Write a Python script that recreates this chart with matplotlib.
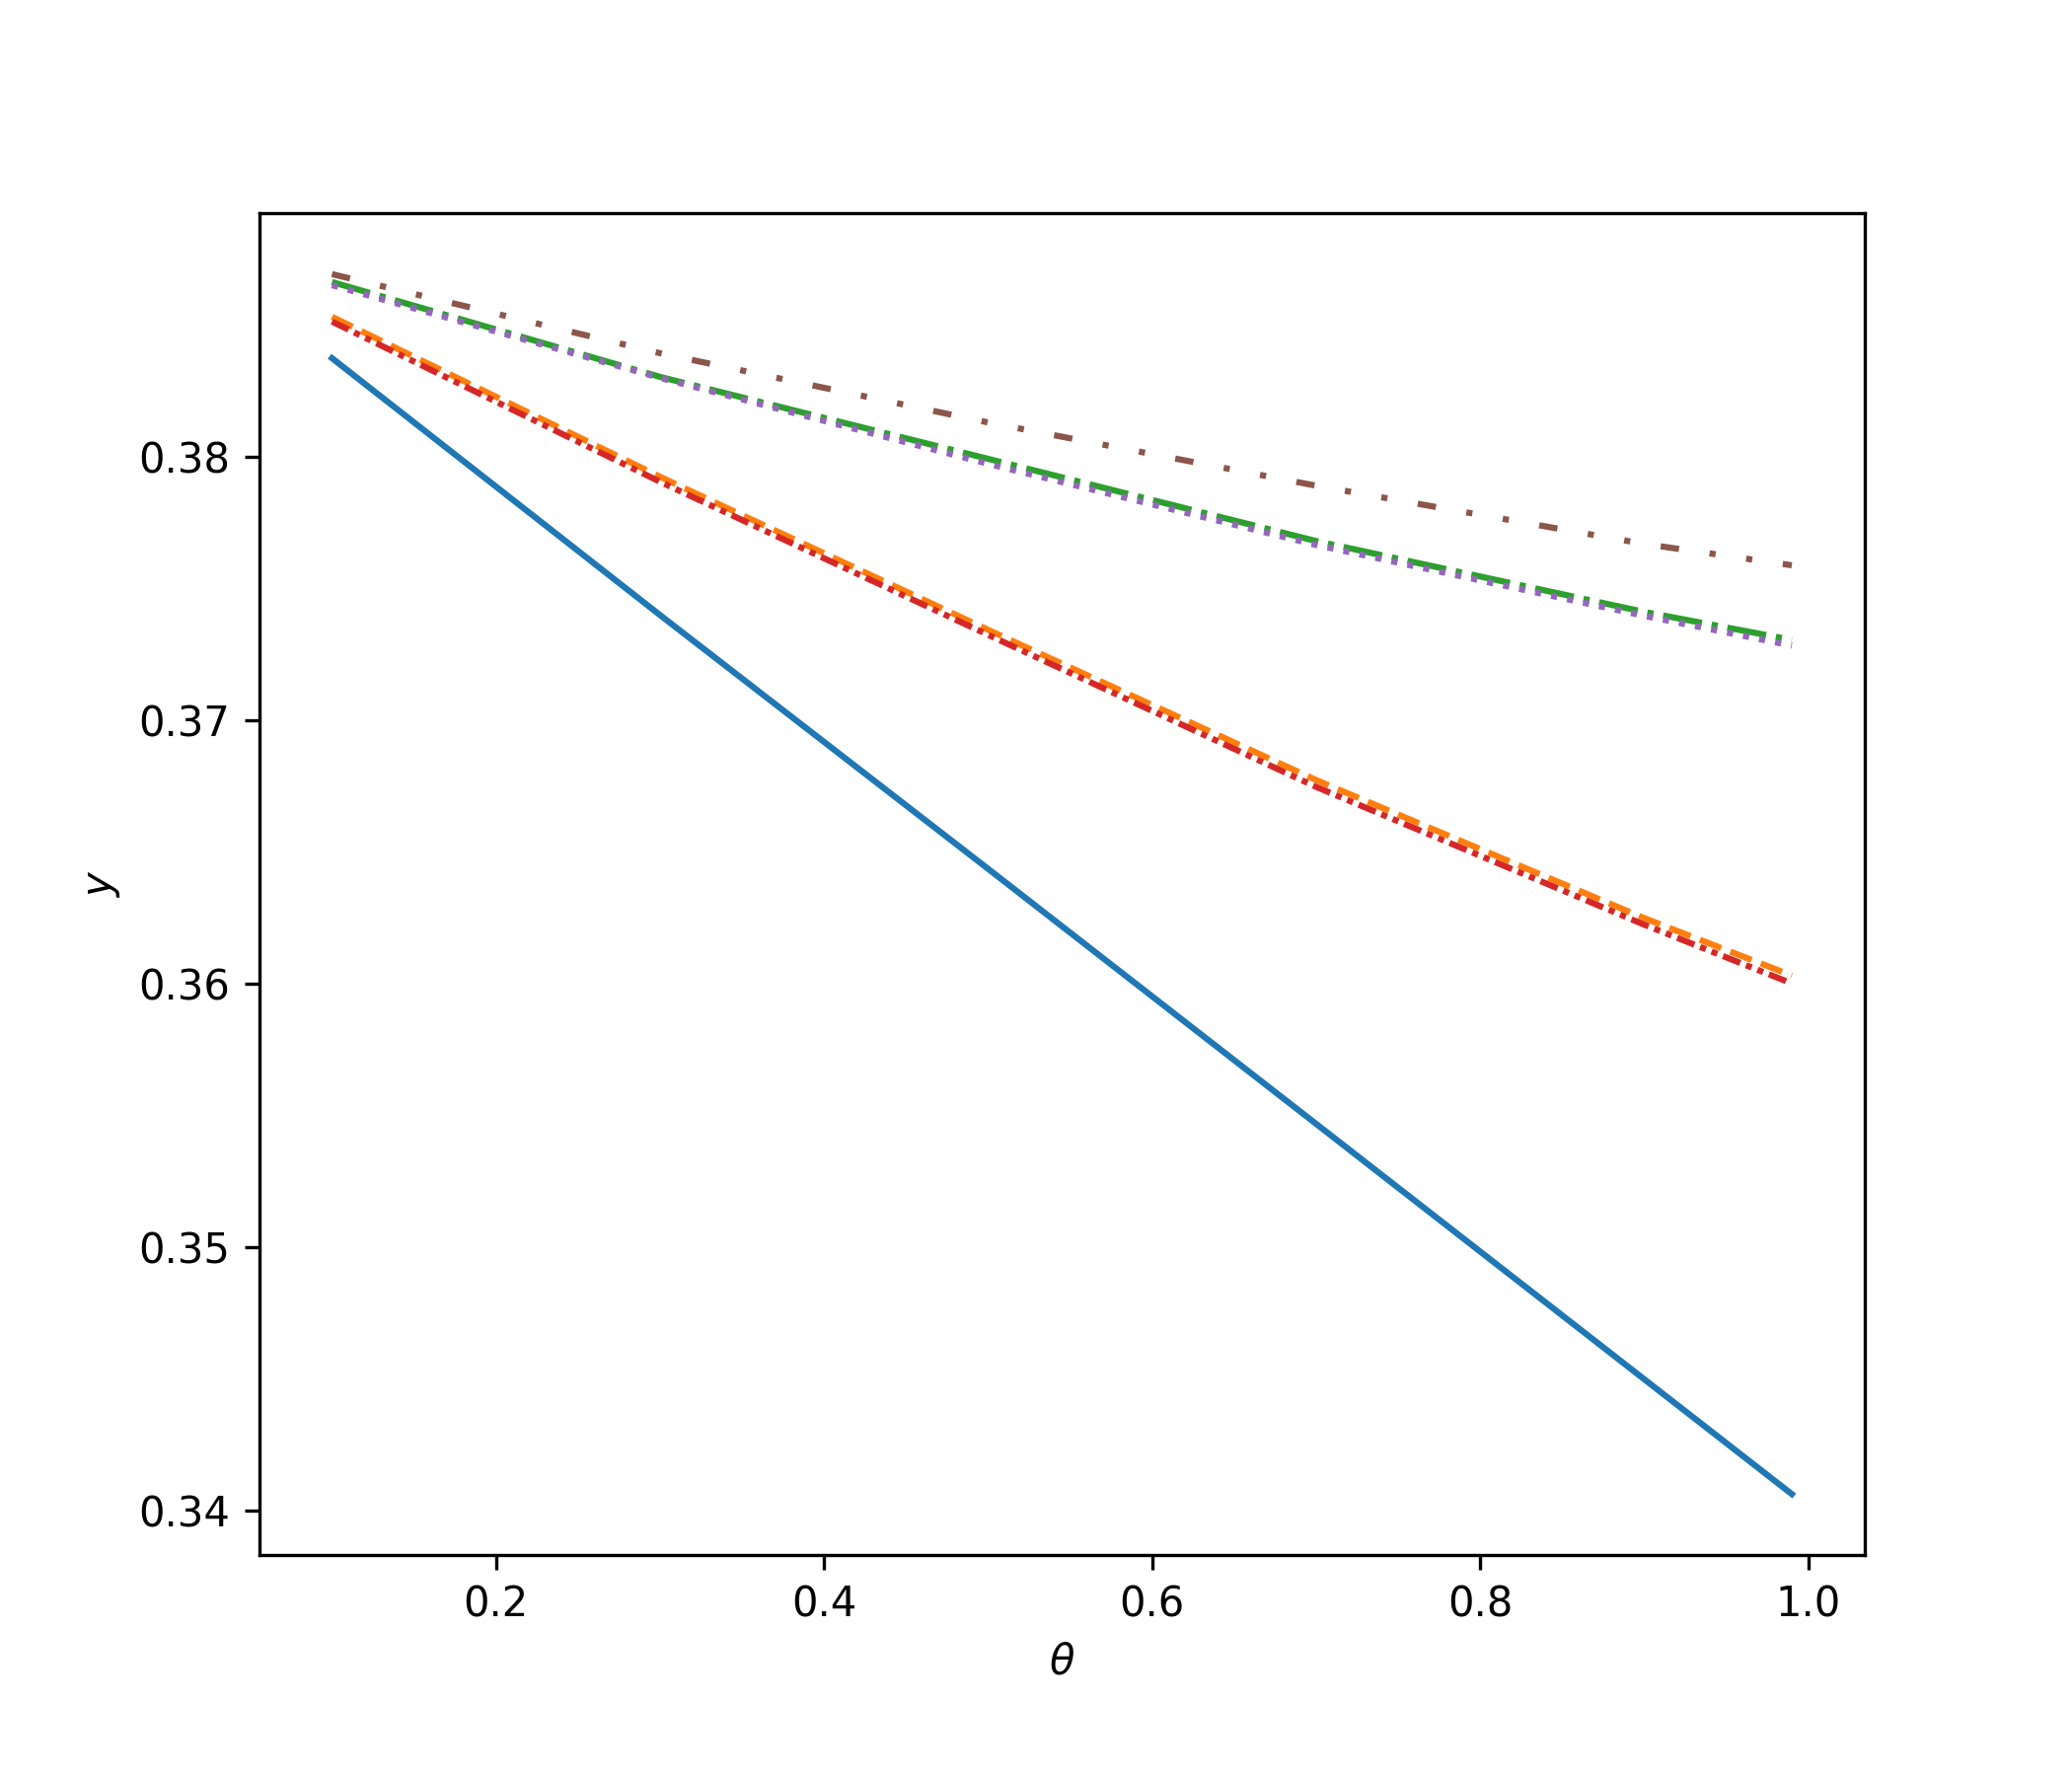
import matplotlib
matplotlib.use('Agg')
import matplotlib.pyplot as plt

theta = [0.10, 0.30, 0.50, 0.70, 0.90, 0.99]

y_solid = [0.38375, 0.37400, 0.36437, 0.35469, 0.34500, 0.34064]
y_dashed = [0.38532, 0.37925, 0.37344, 0.36774, 0.36250, 0.36032]
y_dashdot = [0.38664, 0.38304, 0.37993, 0.37681, 0.37412, 0.37306]
y_dashdotdot = [0.38514, 0.37906, 0.37325, 0.36748, 0.36225, 0.36002]
y_dotted = [0.38652, 0.38300, 0.37974, 0.37666, 0.37397, 0.37284]
y_loose = [0.38694, 0.38394, 0.38131, 0.37891, 0.37670, 0.37589]

fig = plt.figure(figsize=(7, 6), dpi=300)
fig.subplots_adjust(left=0.125, right=0.9, top=0.88, bottom=0.1244)
ax = fig.add_subplot(111)

ax.plot(theta, y_solid, linestyle='-')
ax.plot(theta, y_dashed, linestyle='--')
ax.plot(theta, y_dashdot, linestyle='-.')
ax.plot(theta, y_dashdotdot, linestyle=(0, (3, 1, 1, 1, 1, 1)))
ax.plot(theta, y_dotted, linestyle=':')
ax.plot(theta, y_loose, linestyle=(0, (3, 5, 1, 5, 1, 5)))

ax.set_yticks([0.34, 0.35, 0.36, 0.37, 0.38])
ax.set_xlabel(r'$\theta$')
ax.set_ylabel(r'$y$')

plt.savefig('out.png', dpi=300)
